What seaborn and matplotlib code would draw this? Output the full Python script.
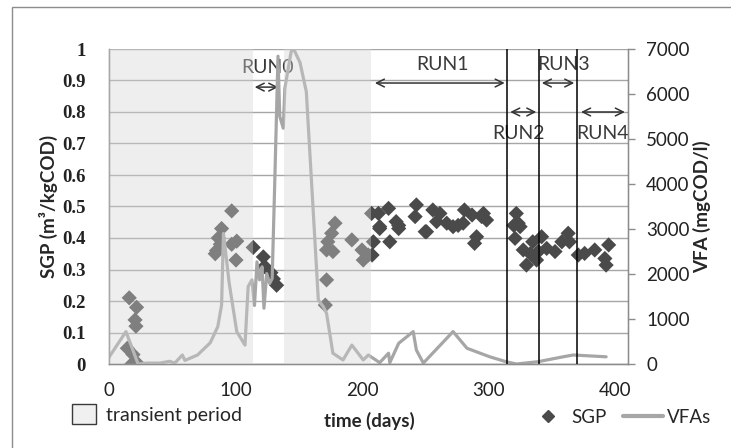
import matplotlib
matplotlib.use("Agg")
import matplotlib.pyplot as plt
from matplotlib.lines import Line2D
from matplotlib.patches import Patch, Rectangle
import pandas as pd
import seaborn as sns

# SGP measurements (day, m3/kgCOD)
sgp_day = [14.5, 16, 18, 19, 20.6, 21.3, 21.8, 23,
           84, 85, 86.4, 88, 89, 97, 97, 101, 100.4,
           114, 122, 123, 128, 130, 132.5,
           171, 172, 172, 173, 176, 177, 178.7, 192, 200, 201, 205, 207.6,
           208, 209, 213, 214, 214, 221, 222, 227, 229, 229, 242, 243, 250, 251,
           256, 259, 261.6, 267, 272, 276, 280, 281, 287, 289, 290.6, 294.6,
           296, 298.5,
           320, 321, 322, 323.5, 325, 327.5, 330, 333, 335, 338,
           339.4, 342, 346, 352.6, 358, 363, 364,
           371, 376, 384, 392, 393, 395]
sgp_val = [0.05, 0.21, 0.0, 0.03, 0.14, 0.12, 0.18, 0.0,
           0.35, 0.36, 0.40, 0.38, 0.43, 0.486, 0.38, 0.39, 0.33,
           0.37, 0.34, 0.31, 0.29, 0.27, 0.25,
           0.187, 0.267, 0.362, 0.388, 0.415, 0.357, 0.447, 0.394, 0.362, 0.33, 0.346, 0.478,
           0.346, 0.388, 0.478, 0.436, 0.43, 0.494, 0.388, 0.452, 0.43, 0.44, 0.468, 0.505, 0.42, 0.42,
           0.489, 0.452, 0.478, 0.447, 0.436, 0.44, 0.447, 0.489, 0.473, 0.383, 0.404, 0.468,
           0.478, 0.457,
           0.44, 0.399, 0.478, 0.447, 0.436, 0.362, 0.314, 0.35, 0.388, 0.33,
           0.357, 0.404, 0.367, 0.357, 0.388, 0.415, 0.388,
           0.346, 0.351, 0.362, 0.335, 0.314, 0.378]

# VFA concentration (day, mgCOD/l)
vfa_day = [0, 13.4, 23, 30, 40, 48, 52, 58, 60, 70, 80, 86, 89, 90.5, 95, 101,
           107.5, 110, 113, 115, 117, 119, 121, 122.5, 124.7, 127, 129, 131,
           133.6, 135, 137.8, 139, 144, 146, 151, 156, 165.5, 169.5, 172, 177,
           185, 192, 201, 205, 214, 221, 222, 229, 240.5, 243, 248.5, 272, 283,
           301, 314, 322, 339, 359, 367, 393]
vfa_val = [150, 720, 0, 20, 20, 60, 20, 200, 80, 200, 470, 830, 1310, 2900, 1800, 720,
           420, 1720, 1870, 1300, 2270, 1870, 2160, 1240, 2010, 1790, 1900, 4000,
           6840, 5500, 5240, 6125, 6940, 7000, 6700, 6050, 1420, 1270, 1125, 240,
           90, 420, 90, 200, 30, 240, 30, 460, 720, 310, 20, 720, 350,
           160, 50, 0, 50, 160, 200, 160]

transient_start = [0, 138]
transient_end = [114, 207]

run_names = ["RUN0", "RUN1", "RUN2", "RUN3", "RUN4"]
run_start = [113, 208, 315, 340, 371]
run_end = [136, 315, 340, 370, 410]
run_lines = [315, 340, 370]

sgp = pd.DataFrame({"day": sgp_day, "sgp": sgp_val})
vfa = pd.DataFrame({"day": vfa_day, "vfa": vfa_val})

sns.set_style("white")
plt.rcParams["font.family"] = ["Lato", "DejaVu Sans"]

fig = plt.figure(figsize=(7.31, 4.48), dpi=100)
ax = fig.add_axes([109 / 731, 84 / 448, 519 / 731, 315 / 448])
ax2 = ax.twinx()

sns.scatterplot(data=sgp, x="day", y="sgp", marker="D", s=60, color="#4a4a4a",
                edgecolor="none", ax=ax, zorder=3, legend=False)
sns.lineplot(data=vfa, x="day", y="vfa", color="#a6a6a6", lw=2.3, sort=False,
             estimator=None, ax=ax2, zorder=2)

# transient periods drawn as a translucent overlay
for a, b in zip(transient_start, transient_end):
    ax2.axvspan(a, b, color="#d4d4d4", alpha=0.39, lw=0, zorder=5)

for xv in run_lines:
    ax2.axvline(xv, color="black", lw=1.1, zorder=6)

ax.set_xlim(0, 410.3)
ax.set_ylim(0, 1)
ax2.set_ylim(0, 7000)
ax.set_yticks([i / 10 for i in range(11)])
ax.set_yticklabels(["0", "0.1", "0.2", "0.3", "0.4", "0.5", "0.6", "0.7", "0.8", "0.9", "1"],
                   family=["Liberation Serif"], fontsize=13.5, fontweight="bold")
ax.set_xticks([0, 100, 200, 300, 400])
ax2.set_yticks(range(0, 7001, 1000))
ax.tick_params(axis="x", length=0, pad=13, labelsize=13.5, colors="#222222")
ax.tick_params(axis="y", length=0, pad=17, colors="#222222")
ax2.tick_params(axis="y", length=5, width=1, color="#8c8c8c", pad=8,
                labelsize=13.5, labelcolor="#222222")

ax.grid(True, axis="y", color="#a6a6a6", lw=1)
ax.grid(False, axis="x")
for sp in ["top"]:
    ax.spines[sp].set_visible(False)
    ax2.spines[sp].set_visible(False)
for sp in ["left", "bottom", "right"]:
    ax2.spines[sp].set_color("#8c8c8c")
    ax2.spines[sp].set_linewidth(1)

ax.set_xlabel("time (days)", fontsize=13.5, fontweight="bold")
ax.xaxis.set_label_coords(0.501, -0.152)
ax.set_ylabel("SGP (m³/kgCOD)", fontsize=13.5, fontweight="bold")
ax.yaxis.label.set_va("center")
ax.yaxis.set_label_coords(-0.1175, 0.5)
ax2.set_ylabel("VFA (mgCOD/l)", fontsize=13.5, fontweight="bold")
ax2.yaxis.label.set_va("center")
ax2.yaxis.set_label_coords(1.1426, 0.5)

# run annotations
text_y = [0.94, 0.95, 0.733, 0.95, 0.733]
text_x = [125, 264, 324, 359, 390]
arrow_y = [0.879, 0.892, 0.80, 0.892, 0.80]
for name, a, b, ty, tx, ay in zip(run_names, run_start, run_end, text_y, text_x, arrow_y):
    ax.annotate("", xy=(a, ay), xytext=(b, ay),
                arrowprops=dict(arrowstyle="<->", color="#333333", lw=1.1,
                                mutation_scale=14), zorder=7)
    ax.text(tx, ty, name, ha="center", va="center", fontsize=14,
            color="#3a3a3a", zorder=7)

# legends at the bottom
fig.legend(handles=[Patch(facecolor="#f0f0f0", edgecolor="#3a3a3a", lw=1)],
           labels=["transient period"], loc="center left",
           bbox_to_anchor=(72 / 731, 1 - 414 / 448), frameon=False,
           fontsize=14, handlelength=1.25, handleheight=1.25,
           handletextpad=0.52, borderpad=0, borderaxespad=0)
fig.legend(handles=[Line2D([], [], marker="D", ls="none", color="#4a4a4a", markersize=6.5),
                    Line2D([], [], color="#a6a6a6", lw=3)],
           labels=["SGP", "VFAs"], loc="center left", ncol=2,
           bbox_to_anchor=(528 / 731, 1 - 417 / 448), frameon=False,
           fontsize=13.5, handlelength=2.1, handletextpad=0.2,
           columnspacing=0.9, borderpad=0, borderaxespad=0)

# outer chart border
fig.patches.append(Rectangle((12 / 731, -0.1), 1.2, (441 / 448) + 0.1,
                             transform=fig.transFigure, fill=False,
                             edgecolor="#8c8c8c", lw=1))

fig.savefig("out.png", dpi=100)
